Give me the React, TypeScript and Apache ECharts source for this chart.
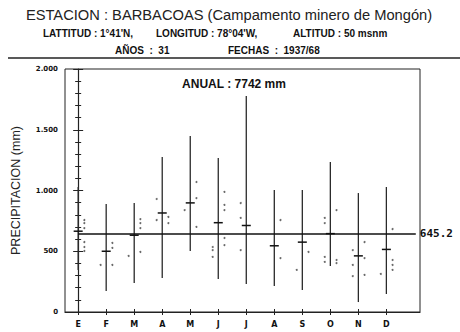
import React, { useEffect, useRef } from "react";
import * as echarts from "echarts";

const months = ["E", "F", "M", "A", "M", "J", "J", "A", "S", "O", "N", "D"];
const minVals = [346, 173, 239, 280, 502, 272, 230, 214, 181, 379, 82, 148];
const maxVals = [1029, 889, 897, 1276, 1448, 1267, 1778, 1004, 1004, 1235, 979, 1029];
const meanVals = [665, 500, 632, 815, 898, 735, 712, 545, 575, 645, 462, 515];
const dotsLeft: number[][] = [
  [],
  [387],
  [461],
  [930, 757],
  [839],
  [535, 510, 453],
  [897, 774, 510],
  [],
  [346],
  [774, 732, 453, 412],
  [510, 387, 296],
  [313],
];
const dotsRight: number[][] = [
  [757, 732, 691, 576, 535, 502],
  [568, 527, 387],
  [765, 732, 691, 494],
  [782, 732],
  [1070, 938, 700],
  [988, 881, 839, 609, 551],
  [],
  [757, 444],
  [494],
  [839, 428, 403],
  [576, 444, 305],
  [683, 428, 387, 346],
];
const annualMean = 645.2;
const yTicks = { min: 0, max: 2000, interval: 500 };

const fmtY = (v: number) =>
  v >= 1000 ? `${Math.floor(v / 1000)}.${String(v % 1000).padStart(3, "0")}` : String(v);

export default function App() {
  const ref = useRef<HTMLDivElement>(null);
  useEffect(() => {
    if (!ref.current) return;
    const chart = echarts.init(ref.current, null, { renderer: "svg" });
    const rangeData = months.map((_, i) => [i, minVals[i], maxVals[i], meanVals[i]]);
    const dotData: number[][] = [];
    dotsLeft.forEach((arr, i) => arr.forEach((v) => dotData.push([i - 0.2, v])));
    dotsRight.forEach((arr, i) => arr.forEach((v) => dotData.push([i + 0.22, v])));
    const idx = months.map((_, i) => i);
    const xBase = {
      type: "value",
      min: -0.47,
      max: 12.2,
      splitLine: { show: false },
    };
    const yBase = {
      type: "value",
      min: yTicks.min,
      max: yTicks.max,
      interval: yTicks.interval,
      splitLine: { show: false },
    };
    const small = "bold 10px 'Liberation Sans'";
    chart.setOption({
      animation: false,
      backgroundColor: "#fff",
      grid: {
        left: 65,
        top: 69,
        right: 40,
        bottom: 20,
        show: true,
        borderColor: "#222",
        borderWidth: 1,
        backgroundColor: "transparent",
      },
      xAxis: [
        {
          ...xBase,
          position: "bottom",
          axisLine: { show: true, lineStyle: { color: "#222", width: 1.2 } },
          axisTick: { show: true, customValues: idx, length: 3, lineStyle: { color: "#222" } },
          axisLabel: {
            show: true,
            customValues: idx,
            formatter: (v: number) => months[Math.round(v)] ?? "",
            margin: 8,
            fontFamily: "DejaVu Sans",
            fontWeight: "bold",
            fontSize: 8,
            color: "#111",
          },
        },
        {
          ...xBase,
          position: "bottom",
          axisLine: { show: false },
          axisTick: { show: true, inside: true, customValues: idx, length: 3, lineStyle: { color: "#222" } },
          axisLabel: { show: false },
        },
      ],
      yAxis: [
        {
          ...yBase,
          position: "left",
          axisLine: { show: true, lineStyle: { color: "#222", width: 1.2 } },
          axisTick: { show: true, length: 5, lineStyle: { color: "#222" } },
          minorTick: { show: true, splitNumber: 5, length: 3, lineStyle: { color: "#222" } },
          axisLabel: {
            formatter: fmtY,
            margin: 7,
            fontFamily: "DejaVu Sans",
            fontWeight: "bold",
            fontSize: 7,
            color: "#111",
          },
          name: "PRECIPITACION (mm)",
          nameLocation: "middle",
          nameGap: 43,
          nameTextStyle: { fontFamily: "Liberation Sans", fontSize: 12.5, color: "#222" },
        },
        {
          ...yBase,
          position: "left",
          axisLine: { show: false },
          axisTick: { show: true, inside: true, length: 5, lineStyle: { color: "#222" } },
          minorTick: { show: true, splitNumber: 5, length: 3, lineStyle: { color: "#222" } },
          axisLabel: { show: false },
        },
      ],
      series: [
        {
          type: "custom",
          xAxisIndex: 0,
          yAxisIndex: 0,
          data: rangeData,
          renderItem: (params: any, api: any) => {
            const x = api.value(0);
            const lo = api.coord([x, api.value(1)]);
            const hi = api.coord([x, api.value(2)]);
            const mn = api.coord([x, api.value(3)]);
            return {
              type: "group",
              children: [
                {
                  type: "line",
                  shape: { x1: lo[0], y1: lo[1], x2: hi[0], y2: hi[1] },
                  style: { stroke: "#2a2a2a", lineWidth: 1.3 },
                },
                {
                  type: "line",
                  shape: { x1: mn[0] - 4.5, y1: mn[1], x2: mn[0] + 4.5, y2: mn[1] },
                  style: { stroke: "#111", lineWidth: 1.5 },
                },
              ],
            };
          },
        },
        {
          type: "scatter",
          xAxisIndex: 0,
          yAxisIndex: 0,
          data: dotData,
          symbolSize: 2,
          itemStyle: { color: "#444" },
          markLine: {
            silent: true,
            symbol: "none",
            lineStyle: { color: "#111", width: 1.6, type: "solid" },
            label: {
              show: true,
              position: "end",
              distance: 4,
              formatter: String(annualMean),
              fontFamily: "DejaVu Sans Mono",
              fontWeight: "bold",
              fontSize: 11,
              color: "#111",
            },
            data: [[{ coord: [0, annualMean] }, { coord: [12.05, annualMean] }]],
          },
        },
      ],
      graphic: [
        {
          type: "text",
          x: 229,
          y: 15,
          style: {
            text: "ESTACION : BARBACOAS (Campamento minero de Mongón)",
            font: "14.7px 'Liberation Sans'",
            fill: "#222",
            align: "center",
            verticalAlign: "middle",
          },
        },
        {
          type: "text",
          x: 43,
          y: 33,
          style: { text: "LATTITUD : 1°41'N,", font: small, fill: "#111", verticalAlign: "middle" },
        },
        {
          type: "text",
          x: 156,
          y: 33,
          style: { text: "LONGITUD : 78°04'W,", font: small, fill: "#111", verticalAlign: "middle" },
        },
        {
          type: "text",
          x: 293,
          y: 33,
          style: { text: "ALTITUD : 50 msnm", font: small, fill: "#111", verticalAlign: "middle" },
        },
        {
          type: "text",
          x: 115,
          y: 50,
          style: { text: "AÑOS  :  31", font: small, fill: "#111", verticalAlign: "middle" },
        },
        {
          type: "text",
          x: 228,
          y: 50,
          style: { text: "FECHAS  :  1937/68", font: small, fill: "#111", verticalAlign: "middle" },
        },
        {
          type: "line",
          shape: { x1: 8, y1: 58, x2: 460, y2: 58 },
          style: { stroke: "#222", lineWidth: 1.3 },
        },
        {
          type: "text",
          x: 234,
          y: 84,
          style: {
            text: "ANUAL : 7742 mm",
            font: "bold 12px 'Liberation Sans'",
            fill: "#111",
            align: "center",
            verticalAlign: "middle",
          },
        },
      ],
    });
    return () => chart.dispose();
  }, []);
  return (
    <div
      ref={ref}
      style={{ position: "fixed", left: 0, top: 0, width: 460, height: 332, background: "#fff" }}
    />
  );
}
